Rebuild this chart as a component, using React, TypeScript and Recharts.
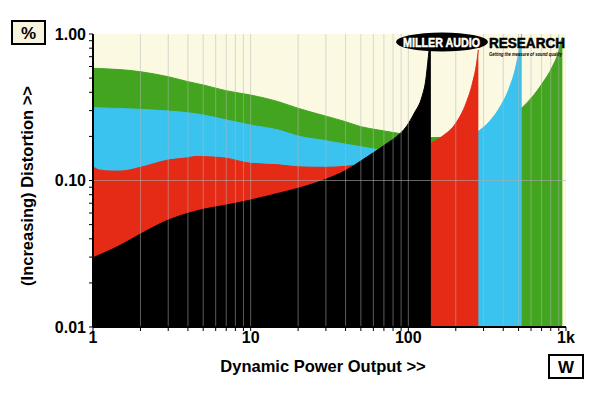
import React from 'react';
import { ComposedChart, Area, XAxis, YAxis, CartesianGrid, ReferenceLine } from 'recharts';

// Power (W) / distortion (%) readings per series
const GREEN_W = [1, 2, 3, 4, 5, 7, 10, 15, 20, 30, 40, 50, 65, 100, 139, 165, 200, 277, 330, 400, 480, 529, 612, 708, 819, 903, 934, 948];
const GREEN_V = [0.583, 0.553, 0.511, 0.473, 0.449, 0.41, 0.383, 0.345, 0.311, 0.275, 0.252, 0.233, 0.221, 0.205, 0.196, 0.197, 0.2, 0.205, 0.22, 0.25, 0.29, 0.316, 0.373, 0.461, 0.598, 0.777, 0.91, 0.95];

const BLUE_W = [1, 2, 3, 4, 5, 7, 10, 15, 20, 30, 40, 50, 59, 70, 100, 139, 200, 277, 326, 377, 436, 481, 509, 524];
const BLUE_V = [0.314, 0.306, 0.298, 0.29, 0.28, 0.259, 0.239, 0.221, 0.201, 0.187, 0.177, 0.17, 0.165, 0.16, 0.16, 0.165, 0.175, 0.216, 0.252, 0.311, 0.426, 0.598, 0.819, 1.0];

const RED_W = [1, 1.1, 1.3, 1.5, 2, 3, 4, 4.5, 5.5, 7, 10, 15, 20, 30, 40, 50, 100, 139, 165, 200, 232, 255, 271, 278];
const RED_V = [0.124, 0.118, 0.116, 0.116, 0.123, 0.138, 0.143, 0.146, 0.145, 0.142, 0.131, 0.128, 0.124, 0.123, 0.125, 0.128, 0.15, 0.179, 0.201, 0.246, 0.336, 0.461, 0.631, 0.78];

const BLACK_W = [1, 1.5, 2, 3, 4, 5, 7, 10, 15, 20, 30, 40, 50, 59, 65, 72, 84, 97, 109, 122, 129, 134, 139];
const BLACK_V = [0.0297, 0.0363, 0.0431, 0.0537, 0.0597, 0.0636, 0.068, 0.0736, 0.0818, 0.0885, 0.102, 0.117, 0.136, 0.153, 0.164, 0.177, 0.199, 0.233, 0.288, 0.373, 0.485, 0.7, 1.0];

const X_TICKS = [1, 2, 3, 4, 5, 6, 7, 8, 9, 10, 20, 30, 40, 50, 60, 70, 80, 90, 100, 200, 300, 400, 500, 600, 700, 800, 900, 1000];
const X_LABELS: Record<number, string> = { 1: '1', 10: '10', 100: '100', 1000: '1k' };
const Y_TICKS = [0.01, 0.02, 0.03, 0.04, 0.05, 0.06, 0.07, 0.08, 0.09, 0.1, 0.2, 0.3, 0.4, 0.5, 0.6, 0.7, 0.8, 0.9, 1];
const Y_LABELS = [
  { v: 0.01, t: '0.01' },
  { v: 0.1, t: '0.10' },
  { v: 1, t: '1.00' },
];
const GRID_X = X_TICKS.filter((v) => v > 1 && v < 1000);

const build = (ws: number[], vs: number[]) => ws.map((w, i) => ({ w, v: vs[i] }));
const greenData = build(GREEN_W, GREEN_V);
const blueData = build(BLUE_W, BLUE_V);
const redData = build(RED_W, RED_V);
const blackData = build(BLACK_W, BLACK_V);

const FONT = '"Liberation Sans", Arial, Helvetica, sans-serif';
const tickStyle = { fontSize: 16, fontWeight: 'bold', fill: '#000', fontFamily: FONT };

const fmtX = (v: number) => X_LABELS[v] ?? '';
const fmtY = (v: number) => {
  const m = Y_LABELS.find((l) => Math.abs(l.v - v) < 1e-9);
  return m ? m.t : '';
};

const series = [
  { data: greenData, color: '#43a51f' },
  { data: blueData, color: '#3bc3ef' },
  { data: redData, color: '#e52a16' },
  { data: blackData, color: '#000000' },
];

export default function App() {
  return (
    <div style={{ position: 'absolute', left: 0, top: 0, width: 600, height: 393, background: '#fff' }}>
      <ComposedChart width={600} height={393} margin={{ top: 34, right: 34, bottom: 36, left: 33 }}>
        <CartesianGrid fill="#fcf9e3" horizontal={false} vertical={false} stroke="none" />
        <XAxis
          type="number"
          dataKey="w"
          scale="log"
          domain={[1, 1000]}
          allowDataOverflow
          ticks={X_TICKS}
          interval={0}
          tickFormatter={fmtX}
          tick={tickStyle}
          tickSize={4}
          tickMargin={1}
          height={30}
          axisLine={{ stroke: '#000', strokeWidth: 2 }}
          tickLine={{ stroke: '#000' }}
        />
        <XAxis
          xAxisId="top"
          orientation="top"
          type="number"
          scale="log"
          domain={[1, 1000]}
          allowDataOverflow
          height={0}
          tick={false}
          tickLine={false}
          axisLine={{ stroke: '#000', strokeWidth: 2 }}
        />
        <YAxis
          type="number"
          scale="log"
          domain={[0.01, 1]}
          allowDataOverflow
          ticks={Y_TICKS}
          interval={0}
          tickFormatter={fmtY}
          tick={tickStyle}
          tickSize={4}
          tickMargin={3}
          width={60}
          axisLine={{ stroke: '#000', strokeWidth: 2 }}
          tickLine={{ stroke: '#000' }}
        />
        <YAxis
          yAxisId="r"
          orientation="right"
          type="number"
          scale="log"
          domain={[0.01, 1]}
          allowDataOverflow
          width={0}
          tick={false}
          tickLine={false}
          axisLine={{ stroke: '#000', strokeWidth: 2 }}
        />
        {series.map((s, i) => (
          <Area
            key={i}
            data={s.data}
            dataKey="v"
            type="monotone"
            stroke={s.color}
            strokeWidth={1}
            fill={s.color}
            fillOpacity={1}
            dot={false}
            activeDot={false}
            isAnimationActive={false}
          />
        ))}
        {GRID_X.map((x) => (
          <ReferenceLine key={x} x={x} stroke="rgb(181,181,181)" strokeOpacity={0.5} strokeWidth={1} />
        ))}
        <ReferenceLine y={0.1} stroke="rgb(170,170,170)" strokeOpacity={0.6} strokeWidth={1} />
      </ComposedChart>
      <svg
        width={600}
        height={393}
        style={{ position: 'absolute', left: 0, top: 0, pointerEvents: 'none' }}
        fontFamily={FONT}
      >
        <rect x={12} y={21} width={33} height={23} fill="#f8f5de" stroke="#000" strokeWidth={2} />
        <text x={28.5} y={38.5} textAnchor="middle" fontSize={17} fontWeight="bold" fill="#000">%</text>
        <rect x={549} y={355} width={34} height={23} fill="#fff" stroke="#000" strokeWidth={2} />
        <text x={566} y={373} textAnchor="middle" fontSize={17} fontWeight="bold" fill="#000">W</text>
        <text transform="rotate(-90)" x={-186} y={33} textAnchor="middle" fontSize={16.5} fontWeight="bold" fill="#000">
          (Increasing) Distortion &gt;&gt;
        </text>
        <text x={323} y={372} textAnchor="middle" fontSize={16.5} fontWeight="bold" fill="#000">
          Dynamic Power Output &gt;&gt;
        </text>
        <ellipse cx={442} cy={42} rx={46} ry={9.5} fill="#000" />
        <text x={403} y={47} fontSize={13} fontWeight="bold" fill="#fff" stroke="#fff" strokeWidth={0.5} textLength={77} lengthAdjust="spacingAndGlyphs">
          MILLER AUDIO
        </text>
        <text x={489} y={48} fontSize={14} fontWeight="bold" fill="#000" stroke="#000" strokeWidth={0.5} textLength={76} lengthAdjust="spacingAndGlyphs">
          RESEARCH
        </text>
        <text x={489} y={56} fontSize={5} fontWeight="bold" fontStyle="italic" fill="#000" textLength={73} lengthAdjust="spacingAndGlyphs">
          Getting the measure of sound quality
        </text>
      </svg>
    </div>
  );
}
